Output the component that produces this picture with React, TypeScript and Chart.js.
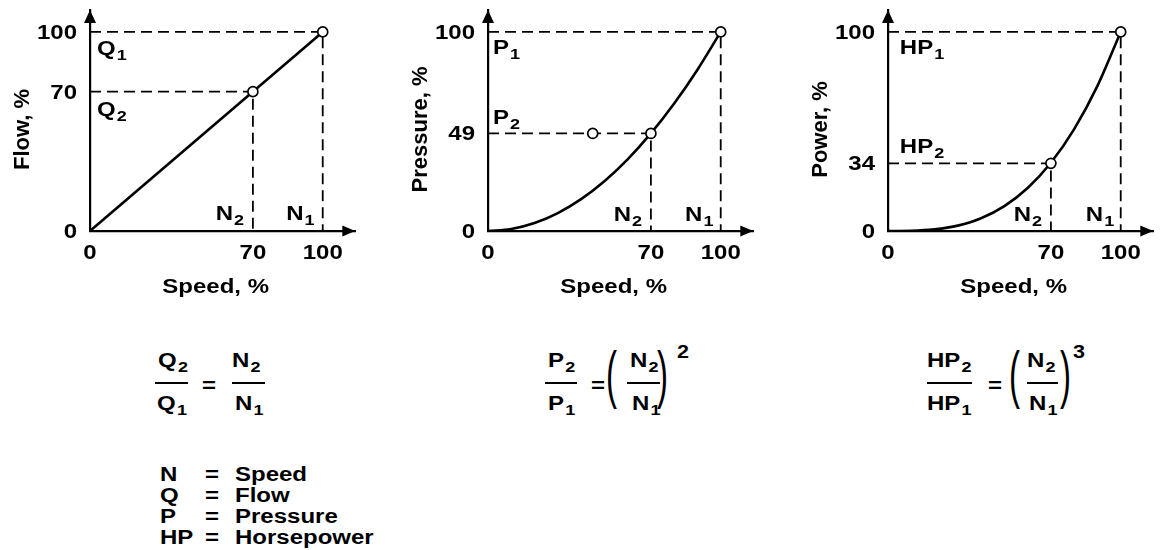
import React, { useEffect, useRef } from 'react';
import { Chart, registerables } from 'chart.js';

Chart.register(...registerables);

// ---------- data ----------
const SPEED_TICKS = [0, 70, 100];
const FLOW_TICKS = [0, 70, 100];
const PRESSURE_TICKS = [0, 49, 100];
const POWER_TICKS = [0, 34, 100];

const FLOW_SPEED = [0, 100];
const FLOW_VALUES = [0, 100];

const CURVE_SPEED = [0, 10, 20, 30, 40, 50, 60, 70, 80, 90, 100];
const PRESSURE_VALUES = [0, 1, 4, 9, 16, 25, 36, 49, 64, 81, 100];
const POWER_VALUES = [0, 0.1, 0.8, 2.7, 6.4, 12.5, 21.6, 34.3, 51.2, 72.9, 100];

const FLOW_MARK_X = [70, 100];
const FLOW_MARK_Y = [70, 100];
const PRESSURE_MARK_X = [45, 70, 100];
const PRESSURE_MARK_Y = [49, 49, 100];
const POWER_MARK_X = [70, 100];
const POWER_MARK_Y = [34, 100];

const FLOW_GUIDE_X = [70, 100];
const FLOW_GUIDE_Y = [70, 100];
const PRESSURE_GUIDE_X = [70, 100];
const PRESSURE_GUIDE_Y = [49, 100];
const POWER_GUIDE_X = [70, 100];
const POWER_GUIDE_Y = [34, 100];

const FLOW_LABELS = [
  { t: 'Q', s: '1', x: 3, y: 88.5 },
  { t: 'Q', s: '2', x: 3, y: 58 },
  { t: 'N', s: '2', x: 54, y: 5.5 },
  { t: 'N', s: '1', x: 84.3, y: 5.5 },
];
const PRESSURE_LABELS = [
  { t: 'P', s: '1', x: 2.1, y: 89 },
  { t: 'P', s: '2', x: 2.1, y: 53.5 },
  { t: 'N', s: '2', x: 54, y: 5 },
  { t: 'N', s: '1', x: 84.7, y: 5 },
];
const POWER_LABELS = [
  { t: 'HP', s: '1', x: 5.1, y: 89 },
  { t: 'HP', s: '2', x: 5.1, y: 39.4 },
  { t: 'N', s: '2', x: 54, y: 5 },
  { t: 'N', s: '1', x: 85, y: 5 },
];

const X_TITLE = 'Speed, %';
const LEGEND_SYMBOLS = ['N', 'Q', 'P', 'HP'];
const LEGEND_NAMES = ['Speed', 'Flow', 'Pressure', 'Horsepower'];

// ---------- styling ----------
const FONT = '"Liberation Sans", Arial, Helvetica, sans-serif';
const SX = 1.2;

function stretchText(ctx: CanvasRenderingContext2D, text: string, x: number, y: number, align: string, size: number, sx = SX) {
  ctx.save();
  ctx.font = `bold ${size}px ${FONT}`;
  ctx.textAlign = 'left';
  ctx.textBaseline = 'alphabetic';
  const w = ctx.measureText(text).width * sx;
  const left = align === 'center' ? x - w / 2 : align === 'right' ? x - w : x;
  ctx.translate(left, y);
  ctx.scale(sx, 1);
  ctx.fillStyle = '#000';
  ctx.fillText(text, 0, 0);
  ctx.restore();
  return w;
}

function decorPlugin(p: any) {
  return {
    id: 'decor',
    afterDraw(chart: any) {
      const ctx = chart.ctx as CanvasRenderingContext2D;
      const xs = chart.scales.x;
      const ys = chart.scales.y;
      const area = chart.chartArea;
      const x0 = xs.getPixelForValue(0);
      const y0 = ys.getPixelForValue(0);
      ctx.save();
      ctx.fillStyle = '#000';
      // arrowheads
      ctx.beginPath();
      ctx.moveTo(x0, area.top);
      ctx.lineTo(x0 - 6, area.top + 13);
      ctx.lineTo(x0 + 6, area.top + 13);
      ctx.closePath();
      ctx.fill();
      ctx.beginPath();
      ctx.moveTo(area.right, y0);
      ctx.lineTo(area.right - 13, y0 - 5.5);
      ctx.lineTo(area.right - 13, y0 + 5.5);
      ctx.closePath();
      ctx.fill();
      ctx.restore();
      // tick labels
      p.yTicks.forEach((v: number) => {
        stretchText(ctx, String(v), x0 - 13, ys.getPixelForValue(v) + 7, 'right', 20);
      });
      SPEED_TICKS.forEach((v: number) => {
        stretchText(ctx, String(v), xs.getPixelForValue(v), y0 + 28, 'center', 20);
      });
      // axis titles
      stretchText(ctx, X_TITLE, xs.getPixelForValue(54), y0 + 62, 'center', 20);
      ctx.save();
      ctx.translate(x0 - 61, ys.getPixelForValue(51));
      ctx.rotate(-Math.PI / 2);
      ctx.font = `bold 22px ${FONT}`;
      ctx.textAlign = 'center';
      ctx.textBaseline = 'alphabetic';
      ctx.fillStyle = '#000';
      ctx.fillText(p.yTitle, 0, 0);
      ctx.restore();
      // point labels with subscripts
      p.labels.forEach((l: any) => {
        const px = xs.getPixelForValue(l.x);
        const py = ys.getPixelForValue(l.y);
        const w = stretchText(ctx, l.t, px, py, 'left', 20);
        stretchText(ctx, l.s, px + w + 1, py + 5, 'left', 15);
      });
    },
  };
}

function buildConfig(p: any) {
  const guides = p.guideX.map((gx: number, i: number) => ({
    data: [
      { x: 0, y: p.guideY[i] },
      { x: gx, y: p.guideY[i] },
      { x: gx, y: 0 },
    ],
    showLine: true,
    borderColor: '#000',
    borderWidth: 1.8,
    borderDash: [11, 6],
    pointRadius: 0,
    fill: false,
    order: 3,
  }));
  const curve = {
    data: p.curveX.map((x: number, i: number) => ({ x, y: p.curveY[i] })),
    showLine: true,
    borderColor: '#000',
    borderWidth: 2.6,
    pointRadius: 0,
    cubicInterpolationMode: 'monotone',
    fill: false,
    order: 2,
  };
  const marks = {
    data: p.markX.map((x: number, i: number) => ({ x, y: p.markY[i] })),
    showLine: false,
    pointRadius: 5,
    pointBackgroundColor: '#fff',
    pointBorderColor: '#000',
    pointBorderWidth: 1.7,
    order: 0,
  };
  const axis = (max: number) => ({
    type: 'linear',
    min: 0,
    max,
    grid: { display: false, drawTicks: false },
    ticks: { display: false },
    border: { display: true, color: '#000', width: 2.2 },
  });
  return {
    type: 'scatter',
    data: { datasets: [...guides, curve, marks] },
    options: {
      responsive: false,
      animation: false,
      devicePixelRatio: 1,
      events: [],
      layout: { padding: { left: 90, top: 10, right: 4, bottom: 79 } },
      plugins: { legend: { display: false }, tooltip: { enabled: false } },
      scales: { x: axis(114), y: axis(111) },
    },
    plugins: [decorPlugin(p)],
  };
}

const PANELS = [
  { left: 0, yTitle: 'Flow, %', yTicks: FLOW_TICKS, curveX: FLOW_SPEED, curveY: FLOW_VALUES, markX: FLOW_MARK_X, markY: FLOW_MARK_Y, guideX: FLOW_GUIDE_X, guideY: FLOW_GUIDE_Y, labels: FLOW_LABELS },
  { left: 398, yTitle: 'Pressure, %', yTicks: PRESSURE_TICKS, curveX: CURVE_SPEED, curveY: PRESSURE_VALUES, markX: PRESSURE_MARK_X, markY: PRESSURE_MARK_Y, guideX: PRESSURE_GUIDE_X, guideY: PRESSURE_GUIDE_Y, labels: PRESSURE_LABELS },
  { left: 798, yTitle: 'Power, %', yTicks: POWER_TICKS, curveX: CURVE_SPEED, curveY: POWER_VALUES, markX: POWER_MARK_X, markY: POWER_MARK_Y, guideX: POWER_GUIDE_X, guideY: POWER_GUIDE_Y, labels: POWER_LABELS },
];

function Panel({ p }: { p: any }) {
  const ref = useRef<HTMLCanvasElement>(null);
  useEffect(() => {
    if (!ref.current) return;
    const chart = new Chart(ref.current, buildConfig(p) as any);
    return () => chart.destroy();
  }, [p]);
  return <canvas ref={ref} width={362} height={310} style={{ position: 'absolute', left: p.left, top: 0, width: 362, height: 310 }} />;
}

// ---------- html text helpers ----------
function T({ x, y, children, size = 20, sx = SX, weight = 700 }: any) {
  return (
    <div
      style={{
        position: 'absolute',
        left: x,
        top: y - 3,
        fontFamily: FONT,
        fontSize: size,
        fontWeight: weight,
        lineHeight: `${size}px`,
        whiteSpace: 'nowrap',
        transform: `scaleX(${sx})`,
        transformOrigin: 'left top',
        color: '#000',
      }}
    >
      {children}
    </div>
  );
}
function Sub({ children }: any) {
  return <span style={{ fontSize: 15, position: 'relative', top: 5, marginLeft: 1 }}>{children}</span>;
}
function Bar({ x, y, w }: any) {
  return <div style={{ position: 'absolute', left: x, top: y, width: w, height: 2, background: '#000' }} />;
}
function Paren({ x, ch }: any) {
  return (
    <div
      style={{
        position: 'absolute',
        left: x,
        top: 342,
        fontFamily: FONT,
        fontSize: 44,
        fontWeight: 400,
        lineHeight: '44px',
        transform: 'scale(0.75, 1.45)',
        transformOrigin: 'left top',
        color: '#000',
      }}
    >
      {ch}
    </div>
  );
}

export default function App() {
  return (
    <div style={{ position: 'absolute', left: 0, top: 0, width: 1160, height: 550, background: '#fff', overflow: 'hidden' }}>
      {PANELS.map((p, i) => (
        <Panel key={i} p={p} />
      ))}

      {/* Formula 1 */}
      <T x={158} y={353}>Q<Sub>2</Sub></T>
      <Bar x={155} y={382} w={33} />
      <T x={157} y={396}>Q<Sub>1</Sub></T>
      <T x={202} y={378}>=</T>
      <T x={232} y={353}>N<Sub>2</Sub></T>
      <Bar x={232} y={382} w={33} />
      <T x={235} y={396}>N<Sub>1</Sub></T>

      {/* Formula 2 */}
      <T x={548} y={353}>P<Sub>2</Sub></T>
      <Bar x={545} y={382} w={32} />
      <T x={548} y={396}>P<Sub>1</Sub></T>
      <T x={591} y={378}>=</T>
      <Paren x={606} ch="(" />
      <T x={630} y={353}>N<Sub>2</Sub></T>
      <Bar x={627} y={382} w={33} />
      <T x={632} y={396}>N<Sub>1</Sub></T>
      <Paren x={657} ch=")" />
      <T x={677} y={346} size={18}>2</T>

      {/* Formula 3 */}
      <T x={927} y={353}>HP<Sub>2</Sub></T>
      <Bar x={927} y={382} w={45} />
      <T x={927} y={396}>HP<Sub>1</Sub></T>
      <T x={988} y={378}>=</T>
      <Paren x={1009} ch="(" />
      <T x={1027} y={353}>N<Sub>2</Sub></T>
      <Bar x={1027} y={382} w={31} />
      <T x={1029} y={396}>N<Sub>1</Sub></T>
      <Paren x={1060} ch=")" />
      <T x={1073} y={346} size={18}>3</T>

      {/* Legend */}
      {LEGEND_SYMBOLS.map((s, i) => (
        <React.Fragment key={s}>
          <T x={160} y={467 + i * 21}>{s}</T>
          <T x={205} y={467 + i * 21}>=</T>
          <T x={235} y={467 + i * 21}>{LEGEND_NAMES[i]}</T>
        </React.Fragment>
      ))}
    </div>
  );
}
